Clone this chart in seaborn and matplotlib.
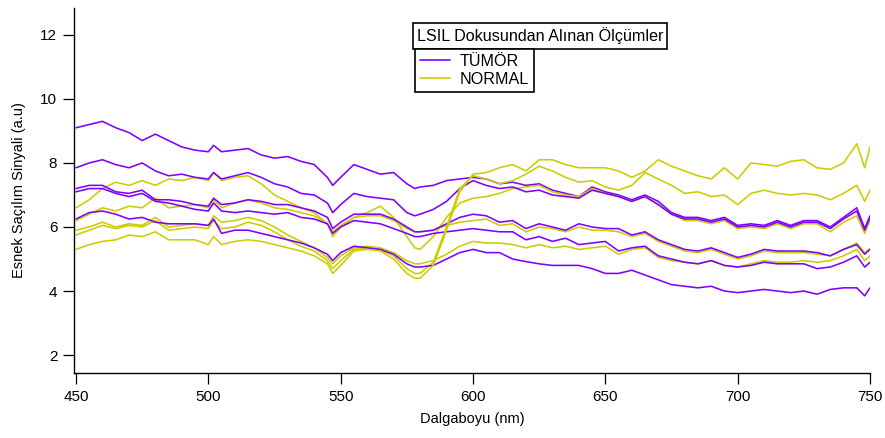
import numpy as np
import pandas as pd
import matplotlib
matplotlib.use("Agg")
import matplotlib.pyplot as plt
from matplotlib.lines import Line2D
import seaborn as sns

# ---------------- data ----------------
wavelength = [450, 455, 460, 465, 470, 475, 480, 485, 490, 495, 500, 502, 505, 510, 515, 520,
              525, 530, 535, 540, 545, 547, 550, 555, 560, 565, 570, 575, 578, 580, 585, 590,
              595, 600, 605, 610, 615, 620, 625, 630, 635, 640, 645, 650, 655, 660, 665, 670,
              675, 680, 685, 690, 695, 700, 705, 710, 715, 720, 725, 730, 735, 740, 745, 748, 750]

tumor_a = [9.1, 9.2, 9.3, 9.1, 8.95, 8.7, 8.9, 8.7, 8.5, 8.4, 8.35, 8.55, 8.35, 8.4, 8.45, 8.25,
           8.15, 8.2, 8.05, 7.95, 7.55, 7.3, 7.55, 7.95, 7.8, 7.65, 7.7, 7.35, 7.2, 7.25, 7.3, 7.45,
           7.5, 7.55, 7.5, 7.35, 7.4, 7.3, 7.35, 7.15, 7.05, 6.95, 7.25, 7.1, 7.0, 6.85, 7.0, 6.8,
           6.45, 6.3, 6.3, 6.2, 6.3, 6.05, 6.1, 6.05, 6.2, 6.05, 6.2, 6.2, 6.0, 6.3, 6.6, 5.95, 6.35]
tumor_b = [7.85, 8.0, 8.1, 7.95, 7.85, 8.0, 7.75, 7.6, 7.65, 7.55, 7.5, 7.7, 7.5, 7.6, 7.7, 7.55,
           7.35, 7.25, 7.05, 7.0, 6.75, 6.45, 6.7, 7.05, 6.95, 6.9, 6.85, 6.45, 6.35, 6.4, 6.55, 6.8,
           7.2, 7.45, 7.3, 7.2, 7.25, 7.1, 7.15, 7.0, 6.95, 6.9, 7.15, 7.05, 6.95, 6.8, 6.95, 6.7,
           6.4, 6.25, 6.25, 6.15, 6.25, 6.0, 6.05, 6.0, 6.15, 6.0, 6.15, 6.15, 5.95, 6.25, 6.5, 5.9, 6.3]
tumor_c = [7.2, 7.3, 7.3, 7.1, 7.05, 7.15, 6.85, 6.85, 6.8, 6.7, 6.65, 6.9, 6.7, 6.75, 6.85, 6.8,
           6.7, 6.7, 6.6, 6.5, 6.3, 5.95, 6.15, 6.4, 6.4, 6.4, 6.25, 6.0, 5.85, 5.85, 5.9, 6.1,
           6.3, 6.4, 6.35, 6.15, 6.2, 5.95, 6.1, 6.0, 5.9, 6.1, 6.0, 5.95, 5.95, 5.75, 5.85, 5.6,
           5.45, 5.3, 5.25, 5.35, 5.2, 5.05, 5.15, 5.3, 5.25, 5.25, 5.25, 5.2, 5.1, 5.3, 5.45, 5.15, 5.3]
tumor_d = [7.1, 7.2, 7.2, 7.05, 6.95, 7.05, 6.8, 6.75, 6.65, 6.55, 6.5, 6.75, 6.5, 6.45, 6.5, 6.45,
           6.4, 6.45, 6.3, 6.25, 6.1, 5.8, 6.0, 6.2, 6.15, 6.1, 5.95, 5.8, 5.7, 5.7, 5.8, 5.85,
           5.9, 5.95, 5.9, 5.85, 5.85, 5.6, 5.7, 5.55, 5.65, 5.45, 5.5, 5.55, 5.25, 5.35, 5.4, 5.1,
           5.0, 4.9, 4.85, 4.95, 4.8, 4.75, 4.8, 4.9, 4.85, 4.85, 4.85, 4.7, 4.75, 4.9, 5.1, 4.75, 4.9]
tumor_e = [6.25, 6.45, 6.5, 6.4, 6.25, 6.3, 6.15, 6.1, 6.1, 6.1, 6.05, 6.25, 5.8, 5.9, 5.9, 5.8,
           5.7, 5.6, 5.5, 5.35, 5.15, 4.95, 5.2, 5.4, 5.35, 5.3, 5.15, 4.85, 4.75, 4.75, 4.8, 5.0,
           5.2, 5.3, 5.2, 5.2, 5.0, 4.92, 4.85, 4.8, 4.8, 4.8, 4.7, 4.55, 4.55, 4.65, 4.5, 4.35,
           4.2, 4.15, 4.1, 4.15, 4.0, 3.95, 4.0, 4.05, 4.0, 3.95, 4.0, 3.9, 4.05, 4.1, 4.1, 3.85, 4.1]

normal_a = [6.6, 6.85, 7.2, 7.4, 7.3, 7.45, 7.3, 7.5, 7.45, 7.55, 7.45, 7.7, 7.45, 7.55, 7.6, 7.35,
            7.0, 6.8, 6.6, 6.45, 6.1, 5.7, 6.0, 6.3, 6.45, 6.65, 6.3, 5.7, 5.35, 5.3, 5.7, 6.3,
            6.75, 6.9, 6.95, 7.05, 7.2, 7.25, 7.3, 7.1, 7.0, 6.95, 7.2, 7.05, 6.95, 6.8, 6.95, 6.7,
            6.4, 6.2, 6.2, 6.1, 6.2, 5.95, 6.0, 5.95, 6.1, 5.95, 6.1, 6.1, 5.85, 6.15, 6.35, 5.8, 6.2]
normal_b = [6.2, 6.4, 6.6, 6.5, 6.65, 6.6, 6.9, 6.6, 6.65, 6.7, 6.6, 6.85, 6.6, 6.75, 6.85, 6.75,
            6.6, 6.55, 6.45, 6.35, 6.1, 5.85, 6.05, 6.3, 6.35, 6.35, 6.2, 5.95, 5.85, 5.85, 5.9, 6.05,
            6.15, 6.2, 6.25, 6.05, 6.1, 5.85, 6.0, 5.95, 5.85, 6.0, 5.9, 5.9, 5.85, 5.7, 5.8, 5.55,
            5.4, 5.25, 5.2, 5.3, 5.15, 5.0, 5.1, 5.25, 5.2, 5.2, 5.2, 5.15, 5.1, 5.3, 5.5, 5.2, 5.33]
normal_c = [5.9, 6.0, 6.15, 6.0, 6.1, 6.05, 6.3, 6.0, 6.05, 6.1, 6.05, 6.35, 6.15, 6.2, 6.3, 6.2,
            6.0, 5.75, 5.55, 5.35, 5.05, 4.85, 5.1, 5.35, 5.4, 5.35, 5.2, 4.95, 4.85, 4.85, 4.95, 5.15,
            5.4, 5.55, 5.5, 5.5, 5.45, 5.35, 5.45, 5.35, 5.4, 5.3, 5.35, 5.4, 5.15, 5.3, 5.35, 5.05,
            4.95, 4.9, 4.85, 4.95, 4.8, 4.75, 4.85, 4.95, 4.9, 4.9, 4.95, 4.9, 4.95, 5.1, 5.3, 4.95, 5.1]
normal_d = [5.75, 5.9, 6.05, 5.95, 6.05, 6.0, 6.2, 5.9, 5.95, 6.0, 5.95, 6.2, 5.95, 6.0, 6.15, 6.05,
            5.85, 5.6, 5.4, 5.25, 4.95, 4.7, 4.95, 5.3, 5.35, 5.3, 5.1, 4.7, 4.55, 4.55, 4.9, 6.0,
            7.2, 7.6, 7.5, 7.35, 7.45, 7.65, 7.9, 7.75, 7.55, 7.4, 7.45, 7.25, 7.15, 7.3, 7.7, 7.5,
            7.3, 7.05, 7.1, 6.95, 7.0, 6.7, 7.05, 7.15, 7.05, 7.0, 7.05, 7.0, 6.85, 7.05, 7.3, 6.8, 7.15]
normal_e = [5.3, 5.45, 5.55, 5.6, 5.75, 5.7, 5.85, 5.6, 5.6, 5.6, 5.45, 5.7, 5.45, 5.55, 5.6, 5.55,
            5.45, 5.35, 5.25, 5.1, 4.85, 4.55, 4.8, 5.25, 5.3, 5.25, 5.0, 4.55, 4.4, 4.4, 4.8, 5.9,
            7.1, 7.65, 7.7, 7.85, 7.95, 7.75, 8.1, 8.1, 7.95, 7.85, 7.85, 7.85, 7.75, 7.55, 7.75, 8.1,
            7.9, 7.75, 7.6, 7.5, 7.85, 7.5, 8.0, 7.95, 7.9, 8.05, 8.1, 7.85, 7.8, 8.0, 8.6, 7.85, 8.5]

group_labels = ["TÜMÖR", "NORMAL"]
legend_title = "LSIL Dokusundan Alınan Ölçümler"
x_label = "Dalgaboyu (nm)"
y_label = "Esnek Saçılım Sinyali (a.u)"
x_ticks = [450, 500, 550, 600, 650, 700, 750]
y_ticks = [2, 4, 6, 8, 10, 12]

series = [
    ("T1", "TÜMÖR", tumor_a), ("N1", "NORMAL", normal_a),
    ("T2", "TÜMÖR", tumor_b), ("N2", "NORMAL", normal_b),
    ("T3", "TÜMÖR", tumor_c), ("N3", "NORMAL", normal_c),
    ("T4", "TÜMÖR", tumor_d), ("N4", "NORMAL", normal_d),
    ("T5", "TÜMÖR", tumor_e), ("N5", "NORMAL", normal_e),
]
rows = []
for sid, grp, vals in series:
    for w, v in zip(wavelength, vals):
        rows.append({"wavelength": w, "value": v, "sample": sid, "group": grp})
df = pd.DataFrame(rows)

# ---------------- style ----------------
sns.set_style("ticks")
plt.rcParams["font.family"] = ["Liberation Sans", "DejaVu Sans"]
plt.rcParams["text.color"] = "black"
plt.rcParams["axes.labelcolor"] = "black"

colors = {"TÜMÖR": "#8000ff", "NORMAL": "#cccc00"}

fig = plt.figure(figsize=(8.85, 4.38), dpi=100)
ax = fig.add_axes([74 / 885, (438 - 373) / 438, (870 - 74) / 885, (373 - 8) / 438])

for sid, grp, vals in series:
    sub = df[df["sample"] == sid]
    sns.lineplot(data=sub, x="wavelength", y="value", color=colors[grp],
                 estimator=None, sort=False, lw=1.15, ax=ax, legend=False)

ax.set_xlim(449.25, 750)
ax.set_ylim(1.44, 12.84)
ax.set_xticks(x_ticks)
ax.set_yticks(y_ticks)
ax.tick_params(axis="both", direction="out", length=8, width=0.9, labelsize=11,
               color="black", labelcolor="black", pad=4)
for s in ["top", "right"]:
    ax.spines[s].set_visible(False)
for s in ["left", "bottom"]:
    ax.spines[s].set_linewidth(1.0)
    ax.spines[s].set_color("black")
ax.set_xlabel(x_label, fontsize=10.5, labelpad=6)
ax.set_ylabel(y_label, fontsize=10.5, labelpad=10)

# legend title box
fig.text(540 / 885, 1 - 36 / 438, legend_title, ha="center", va="center", fontsize=11.6,
         bbox=dict(boxstyle="square,pad=0.25", facecolor="white", edgecolor="black", linewidth=1.2))
handles = [Line2D([0], [0], color=colors[g], lw=1.2) for g in group_labels]
leg = fig.legend(handles, group_labels, loc="upper left",
                 bbox_to_anchor=(415 / 885, 1 - 49 / 438), frameon=True, fancybox=False,
                 edgecolor="black", framealpha=1, fontsize=11.6, handlelength=1.9,
                 handletextpad=0.6, borderpad=0.3, labelspacing=0.2, borderaxespad=0)
leg.get_frame().set_linewidth(1.2)

fig.savefig("out.png", dpi=100)
